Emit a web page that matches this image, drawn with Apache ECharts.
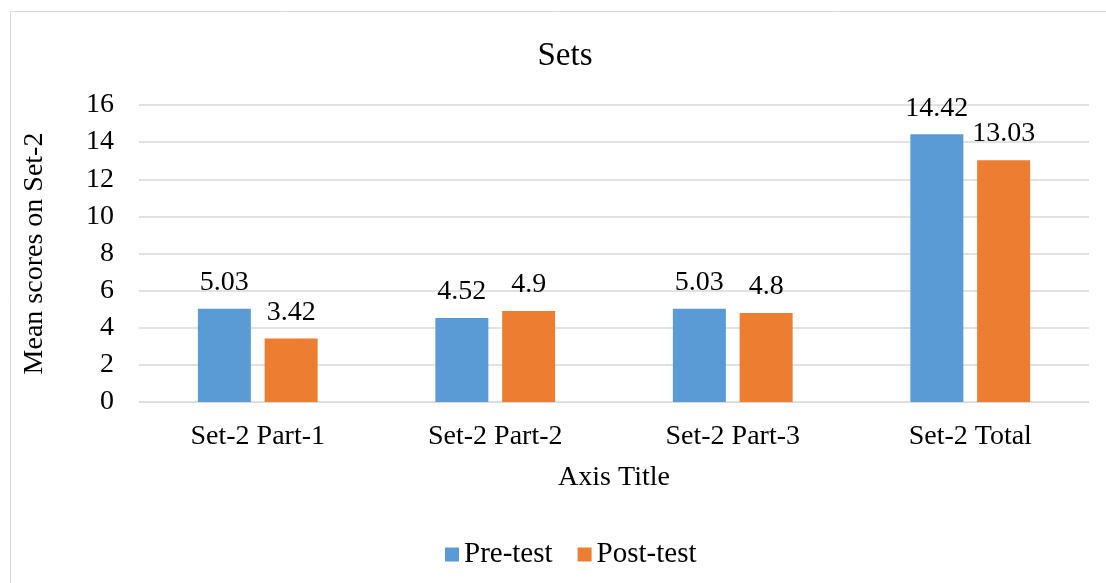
<!DOCTYPE html>
<html>
<head>
<meta charset="utf-8">
<script src="https://cdn.jsdelivr.net/npm/echarts@6/dist/echarts.min.js"></script>
<style>
  html, body { margin: 0; padding: 0; background: #fff; }
  #chart { width: 1106px; height: 583px; }
</style>
</head>
<body>
<div id="chart"></div>
<script>
// Mean scores on Set-2, before and after the test
const categories = ['Set-2 Part-1', 'Set-2 Part-2', 'Set-2 Part-3', 'Set-2 Total'];
const preTest = [5.03, 4.52, 5.03, 14.42];
const postTest = [3.42, 4.9, 4.8, 13.03];
const seriesNames = ['Pre-test', 'Post-test'];

const FONT = '"Liberation Serif", "Times New Roman", serif';
const SIZE = 28;

const chart = echarts.init(document.getElementById('chart'));

const labelStyle = {
  show: true,
  position: 'top',
  distance: 12,
  fontFamily: FONT,
  fontSize: SIZE,
  color: '#000'
};

chart.setOption({
  backgroundColor: '#fff',
  animation: false,
  graphic: [{
    type: 'rect',
    shape: { x: 10.5, y: 11.5, width: 1200, height: 700 },
    style: { fill: 'none', stroke: '#d9d9d9', lineWidth: 1 },
    silent: true
  }],
  title: {
    text: 'Sets',
    left: 560,
    top: 35,
    textAlign: 'center',
    textStyle: { fontFamily: FONT, fontSize: 33, fontWeight: 'normal', color: '#000' }
  },
  legend: {
    data: seriesNames,
    left: 440,
    top: 535,
    itemWidth: 14,
    itemHeight: 14,
    itemGap: 25,
    icon: 'rect',
    textStyle: { fontFamily: FONT, fontSize: 29, color: '#000' }
  },
  grid: { left: 139, right: 17, top: 105, bottom: 181, containLabel: false },
  xAxis: {
    type: 'category',
    data: categories,
    name: 'Axis Title',
    nameLocation: 'middle',
    nameGap: 62,
    nameTextStyle: { fontFamily: FONT, fontSize: SIZE, color: '#000' },
    axisLine: { lineStyle: { color: '#d9d9d9' } },
    axisTick: { show: false },
    axisLabel: { fontFamily: FONT, fontSize: SIZE, color: '#000', margin: 21 }
  },
  yAxis: {
    type: 'value',
    min: 0,
    max: 16,
    interval: 2,
    name: 'Mean scores on Set-2',
    nameLocation: 'middle',
    nameGap: 90,
    nameTextStyle: { fontFamily: FONT, fontSize: SIZE, color: '#000' },
    axisLine: { show: false },
    axisTick: { show: false },
    axisLabel: { fontFamily: FONT, fontSize: SIZE, color: '#000', margin: 25 },
    splitLine: { lineStyle: { color: '#d9d9d9', width: 1.5 } }
  },
  series: [
    {
      name: seriesNames[0],
      type: 'bar',
      data: preTest,
      barWidth: 53,
      barGap: '26%',
      itemStyle: { color: '#5b9bd5' },
      label: labelStyle
    },
    {
      name: seriesNames[1],
      type: 'bar',
      data: postTest,
      barWidth: 53,
      barGap: '26%',
      itemStyle: { color: '#ed7d31' },
      label: labelStyle
    }
  ]
});
</script>
</body>
</html>
